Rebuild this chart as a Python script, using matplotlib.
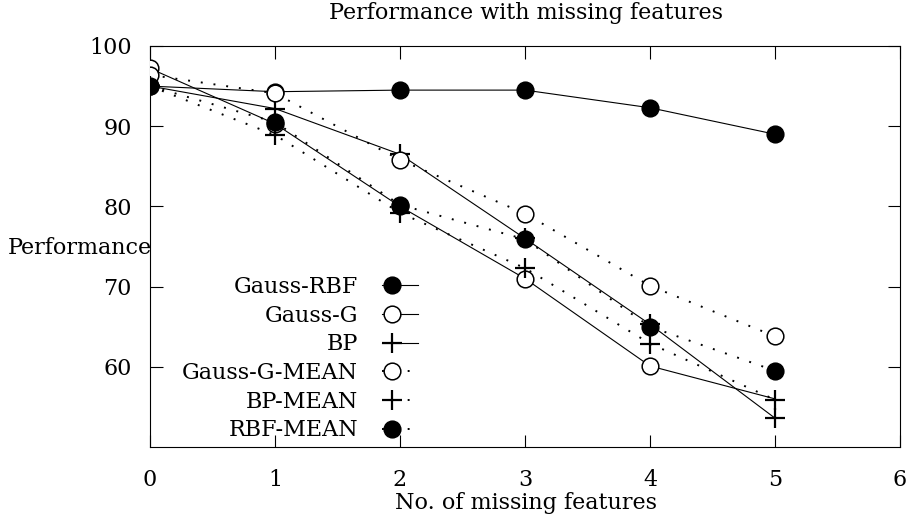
#!/usr/bin/env python3
"""Performance with missing features: six series, solid vs dotted (mean imputation)."""

import matplotlib
matplotlib.use("Agg")
import matplotlib.pyplot as plt
import numpy as np
from matplotlib.legend_handler import HandlerLine2DCompound
from matplotlib.lines import Line2D

plt.rcParams.update({
    "font.family": "DejaVu Serif",
    "font.size": 16,
})

# --- data ---
missing = [0, 1, 2, 3, 4, 5]
gauss_rbf = [95.0, 94.3, 94.5, 94.5, 92.3, 89.0]
gauss_g = [97.2, 90.3, 80.0, 71.0, 60.1, 56.0]
bp = [95.0, 92.2, 86.5, 76.0, 65.3, 53.6]
gauss_g_mean = [96.4, 94.1, 85.8, 79.1, 70.1, 63.8]
bp_mean = [95.0, 88.9, 79.2, 72.3, 62.9, 55.9]
rbf_mean = [95.0, 90.5, 80.2, 75.9, 65.0, 59.5]

labels = ["Gauss-RBF", "Gauss-G", "BP", "Gauss-G-MEAN", "BP-MEAN", "RBF-MEAN"]
series = [gauss_rbf, gauss_g, bp, gauss_g_mean, bp_mean, rbf_mean]

xticks = [0, 1, 2, 3, 4, 5, 6]
yticks = [60, 70, 80, 90, 100]

DOT = (0, (1.0, 5.6))
styles = [
    dict(marker="o", mfc="black", ls="-"),
    dict(marker="o", mfc="white", ls="-"),
    dict(marker="+", mfc="black", ls="-"),
    dict(marker="o", mfc="white", ls=DOT),
    dict(marker="+", mfc="black", ls=DOT),
    dict(marker="o", mfc="black", ls=DOT),
]
# Gauss-G last point has no visible marker in the original
markevery = [None, [0, 1, 2, 3, 4], None, None, None, None]


class MarkerLeftHandler(HandlerLine2DCompound):
    """Legend sample with the point near the left end, like gnuplot's key."""

    def get_xdata(self, legend, xdescent, ydescent, width, height, fontsize):
        xdata = np.array([-xdescent, -xdescent + width])
        return xdata, np.array([-xdescent + 0.28 * width])


fig = plt.figure(figsize=(9.07, 5.22), dpi=100)
ax = fig.add_axes([150 / 907, 1 - 447 / 522, (900 - 150) / 907, (447 - 46) / 522])

handles = []
for i, (lab, ys, st) in enumerate(zip(labels, series, styles)):
    lw = 0.8 if st["ls"] == "-" else 1.4
    ax.plot(missing, ys, color="black", linestyle=st["ls"], linewidth=lw, zorder=2)
    ms = 12 if st["marker"] == "o" else 14
    mew = 1.1 if st["marker"] == "o" else 1.6
    xs = np.asarray(missing)
    yv = np.asarray(ys)
    if markevery[i] is not None:
        xs = xs[markevery[i]]
        yv = yv[markevery[i]]
    ax.plot(xs, yv, linestyle="none", marker=st["marker"], markersize=ms,
            markerfacecolor=st["mfc"], markeredgecolor="black",
            markeredgewidth=mew, zorder=3 + i)
    handles.append(Line2D([], [], color="black", linestyle=st["ls"], linewidth=lw,
                          marker=st["marker"], markersize=ms,
                          markerfacecolor=st["mfc"], markeredgecolor="black",
                          markeredgewidth=mew))

ax.set_xlim(0, 6)
ax.set_ylim(50, 100)
ax.set_xticks(xticks)
ax.set_yticks(yticks)
ax.tick_params(direction="in", length=9, width=0.8, top=True, right=True)
ax.tick_params(axis="x", pad=16)
ax.tick_params(axis="y", pad=13)
for s in ax.spines.values():
    s.set_linewidth(0.8)

fig.text(526 / 907, 1 - 13 / 522, "Performance with missing features",
         ha="center", va="center")
fig.text(526 / 907, 1 - 503 / 522, "No. of missing features",
         ha="center", va="center")
fig.text(8 / 907, 1 - 248 / 522, "Performance", ha="left", va="center")

ax.legend(handles, labels, markerfirst=False, frameon=False,
          loc="upper right", bbox_to_anchor=(418 / 907, 1 - 276 / 522),
          bbox_transform=fig.transFigure, borderpad=0, borderaxespad=0,
          handlelength=1.6, handletextpad=1.1, labelspacing=0.3,
          handler_map={Line2D: MarkerLeftHandler()})

fig.savefig("out.png", dpi=100)
